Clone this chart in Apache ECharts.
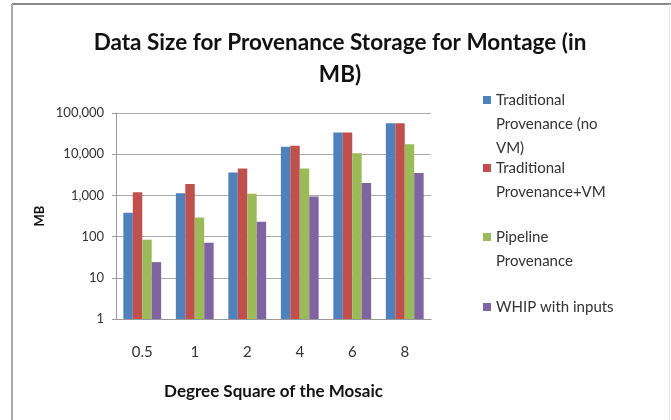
<!DOCTYPE html>
<html>
<head>
<meta charset="utf-8">
<script src="https://cdn.jsdelivr.net/npm/echarts@6/dist/echarts.min.js"></script>
<style>html,body{margin:0;padding:0;background:#fff}#c{width:671px;height:420px}</style>
</head>
<body>
<div id="c"></div>
<script>
const categories = ['0.5', '1', '2', '4', '6', '8'];
const seriesNames = ['Traditional Provenance (no VM)', 'Traditional Provenance+VM', 'Pipeline Provenance', 'WHIP with inputs'];
const legendLabels = ['Traditional\nProvenance (no\nVM)', 'Traditional\nProvenance+VM', 'Pipeline\nProvenance', 'WHIP with inputs'];
const tradNoVM = [380, 1120, 3600, 15100, 33400, 56600];
const tradVM = [1200, 1890, 4500, 16000, 33400, 56600];
const pipeline = [84, 290, 1100, 4500, 10500, 17400];
const whip = [24, 71, 228, 945, 2000, 3500];
const colors = ['#4F81BD', '#C0504D', '#9BBB59', '#8064A2'];

const FONT = 'Lato';
const values = [tradNoVM, tradVM, pipeline, whip];
const legendIconY = [100, 168, 237, 307];

const legends = seriesNames.map((n, i) => {
  const n1 = legendLabels[i].split('\n').length;
  const total = 2 * n1 - 1;
  const txt = '\n'.repeat(n1 - 1) + legendLabels[i];
  return {
    data: [n],
    left: 483,
    top: legendIconY[i] - total * 24 / 2,
    padding: 0,
    itemWidth: 8,
    itemHeight: 8,
    icon: 'rect',
    selectedMode: false,
    formatter: () => txt,
    textStyle: { fontFamily: FONT, fontSize: 15, color: '#333', lineHeight: 24 }
  };
});

const chart = echarts.init(document.getElementById('c'));
chart.setOption({
  backgroundColor: '#fff',
  animation: false,
  title: {
    text: 'Data Size for Provenance Storage for Montage (in\nMB)',
    left: 335, textAlign: 'center', top: 22,
    textStyle: { fontFamily: FONT, fontSize: 22.5, fontWeight: 'bold', color: '#111', lineHeight: 32 }
  },
  legend: legends,
  grid: { left: 116, right: 240, top: 113, bottom: 101 },
  xAxis: {
    type: 'category', data: categories,
    name: 'Degree Square of the Mosaic', nameLocation: 'middle', nameGap: 64,
    nameTextStyle: { fontFamily: FONT, fontSize: 17, fontWeight: 'bold', color: '#111' },
    axisLine: { lineStyle: { color: '#999' } },
    axisTick: { length: 5, lineStyle: { color: '#999' } },
    axisLabel: { fontFamily: FONT, fontSize: 15, color: '#333', margin: 26 }
  },
  yAxis: {
    type: 'log', logBase: 10, min: 1, max: 100000,
    name: 'MB', nameLocation: 'middle', nameGap: 70, nameRotate: 90,
    nameTextStyle: { fontFamily: FONT, fontSize: 13, fontWeight: 'bold', color: '#111' },
    axisLine: { show: true, lineStyle: { color: '#999' } },
    axisTick: { show: true, length: 4, lineStyle: { color: '#999' } },
    minorTick: { show: false },
    splitLine: { lineStyle: { color: '#aaa' } },
    axisLabel: { fontFamily: FONT, fontSize: 13, color: '#333', margin: 12,
      formatter: v => Math.round(v).toLocaleString('en-US') }
  },
  graphic: [
    { type: 'line', shape: { x1: 12, y1: 4, x2: 671, y2: 4 }, style: { stroke: '#888', lineWidth: 2 } },
    { type: 'line', shape: { x1: 12, y1: 4, x2: 12, y2: 420 }, style: { stroke: '#aaa', lineWidth: 2 } },
    { type: 'line', shape: { x1: 669.5, y1: 4, x2: 669.5, y2: 420 }, style: { stroke: '#e4e4e4', lineWidth: 1 } }
  ],
  series: seriesNames.map((n, i) => ({
    name: n, type: 'bar', data: values[i],
    barGap: '0%', barCategoryGap: '28%',
    itemStyle: { color: colors[i] }
  }))
});
</script>
</body>
</html>
